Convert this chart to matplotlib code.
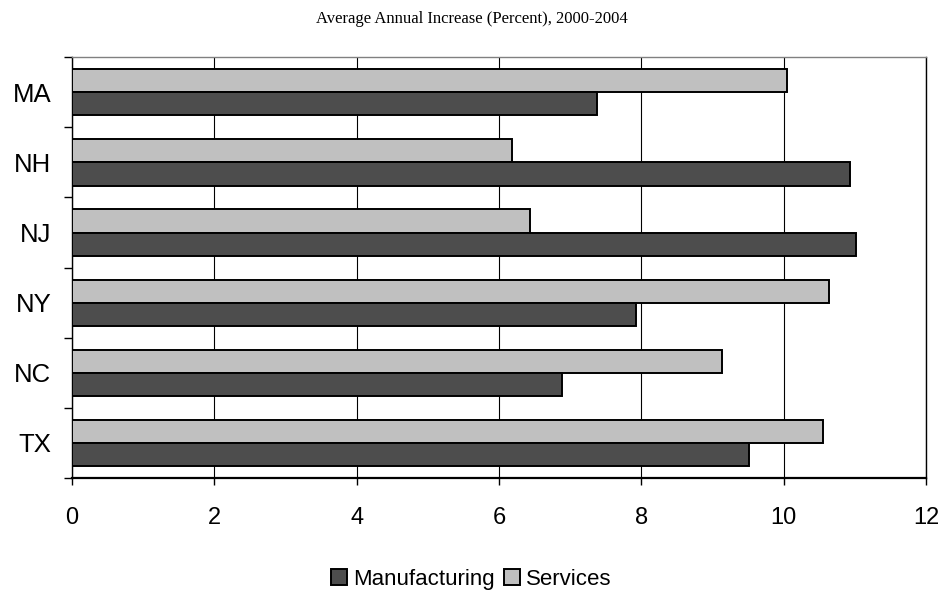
import matplotlib.pyplot as plt
import numpy as np

# data
states = ["MA", "NH", "NJ", "NY", "NC", "TX"]
manufacturing = [7.37, 10.93, 11.02, 7.93, 6.89, 9.51]
services = [10.04, 6.18, 6.44, 10.63, 9.14, 10.55]
x_ticks = [0, 2, 4, 6, 8, 10, 12]

dark = "#4d4d4d"
light = "#c0c0c0"

fig = plt.figure(figsize=(9.43, 5.96), dpi=100)
ax = fig.add_axes([0.0764, 0.198, 0.9056, 0.706])

y = np.arange(len(states))
h = 0.33

# services on top, manufacturing below
ax.barh(y - h / 2, services, height=h, color=light, edgecolor="black", linewidth=1.4,
        label="Services", zorder=3)
ax.barh(y + h / 2, manufacturing, height=h, color=dark, edgecolor="black", linewidth=1.4,
        label="Manufacturing", zorder=3)

ax.set_xlim(0, 12)
ax.set_ylim(len(states) - 0.5, -0.5)
ax.set_xticks(x_ticks)
ax.set_xticklabels([str(v) for v in x_ticks], fontsize=17, family="Liberation Sans")
ax.grid(axis="x", color="black", linewidth=0.8, zorder=0)

# tick marks on category boundaries, labels at centres
ax.set_yticks(np.arange(-0.5, len(states)), labels=[])
ax.set_yticks(y, minor=True)
ax.set_yticklabels(states, minor=True, fontsize=18.5, family="Liberation Sans")
ax.tick_params(axis="y", which="major", length=6, width=1, direction="out")
ax.tick_params(axis="y", which="minor", length=0, pad=15)
ax.tick_params(axis="x", length=5, width=1, direction="out", pad=16)

ax.spines["top"].set_color("#808080")
ax.spines["top"].set_linewidth(1.0)
ax.spines["right"].set_linewidth(1.0)
ax.spines["left"].set_linewidth(1.0)
ax.spines["bottom"].set_linewidth(1.6)

fig.text(0.5, 0.968, "Average Annual Increase (Percent), 2000-2004", ha="center", va="center",
         fontsize=12, family="Liberation Serif")

handles, labels = ax.get_legend_handles_labels()
leg = fig.legend(handles[::-1], labels[::-1], loc="center", bbox_to_anchor=(0.5, 0.028), ncol=2,
                 frameon=False, handlelength=0.7, handleheight=0.7, handletextpad=0.3,
                 columnspacing=0.4, prop={"family": "Liberation Sans", "size": 16})

fig.savefig("out.png", dpi=100)
